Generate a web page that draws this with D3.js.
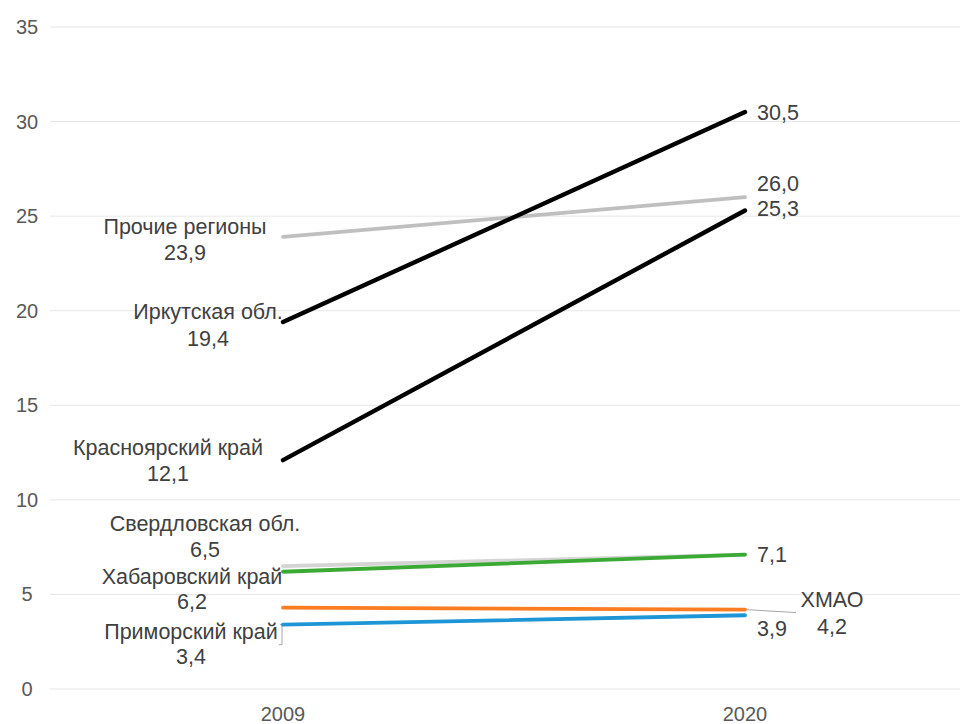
<!DOCTYPE html>
<html><head><meta charset="utf-8">
<script src="https://cdn.jsdelivr.net/npm/d3@7"></script>
<style>body{margin:0;background:#fff}svg{display:block}text{font-family:"Liberation Sans",Arial,sans-serif}</style>
</head><body><svg id="c" width="960" height="724"></svg>
<script>
const years = ["2009", "2020"];
const regions = ["Прочие регионы", "Иркутская обл.", "Красноярский край", "Свердловская обл.", "Хабаровский край", "ХМАО", "Приморский край"];
const values2009 = [23.9, 19.4, 12.1, 6.5, 6.2, 4.3, 3.4];
const values2020 = [26.0, 30.5, 25.3, 7.1, 7.1, 4.2, 3.9];
const colors = ["#bfbfbf", "#000000", "#000000", "#d4d4d4", "#3aaa35", "#fb7d22", "#1e96d6"];
const yTicks = [0, 5, 10, 15, 20, 25, 30, 35];
const fmt = v => v.toFixed(1).replace(".", ",");

// label layout (offsets in px from the point)
const leftLabel = [
  {dx:-98, dy1:-10, dy2:16},
  {dx:-75, dy1:-11, dy2:16},
  {dx:-115, dy1:-13, dy2:13},
  {dx:-78, dy1:-43, dy2:-17},
  {dx:-91, dy1:5, dy2:30},
  null,
  {dx:-92, dy1:7, dy2:32}
];
const rightLabel = [
  {dy:-14}, {dy:0}, {dy:-2}, null, {dy:0}, "xmao", {dy:13}
];

const svg = d3.select("#c");
const x = d3.scalePoint().domain(years).range([52, 976]).padding(0.5);
const y = d3.scaleLinear().domain([0, 35]).range([689, 27]);

// grid
svg.append("g").selectAll("line").data(yTicks).join("line")
  .attr("x1", 50).attr("x2", 960)
  .attr("y1", d => y(d)).attr("y2", d => y(d))
  .attr("stroke", "#e6e6e6").attr("stroke-width", 1);

// y tick labels
svg.append("g").selectAll("text").data(yTicks).join("text")
  .attr("x", 27).attr("y", d => y(d)).attr("dy", "0.35em")
  .attr("text-anchor", "middle").attr("font-size", 20).attr("fill", "#595959")
  .text(d => d);

// x labels
svg.append("g").selectAll("text").data(years).join("text")
  .attr("x", d => x(d)).attr("y", 714).attr("dy", "0.35em")
  .attr("text-anchor", "middle").attr("font-size", 20).attr("fill", "#595959")
  .text(d => d);

const series = regions.map((r, i) => ({name: r, v: [values2009[i], values2020[i]], color: colors[i], i}));
const drawOrder = [3, 0, 6, 5, 4, 2, 1];

const line = d3.line().x((d, k) => x(years[k])).y(d => y(d));

// leader lines
svg.append("line").attr("x1", x("2020")).attr("y1", y(4.2)).attr("x2", 796).attr("y2", y(4.2) + 3)
  .attr("stroke", "#a6a6a6").attr("stroke-width", 1);
svg.append("path").attr("d", `M${x("2009")-3},${y(3.4)} L${x("2009")-1},${y(3.4)} L${x("2009")-1},${y(3.4)+20} L${x("2009")-4},${y(3.4)+20}`)
  .attr("fill", "none").attr("stroke", "#a6a6a6").attr("stroke-width", 1);

svg.append("g").selectAll("path").data(drawOrder.map(i => series[i])).join("path")
  .attr("d", d => line(d.v))
  .attr("fill", "none").attr("stroke", d => d.color)
  .attr("stroke-width", d => d.color === "#000000" ? 4.4 : 3.8)
  .attr("stroke-linecap", "round");

const tcol = "#404040";
const lg = svg.append("g").attr("font-size", 21.5).attr("fill", tcol);
series.forEach((s, i) => {
  const L = leftLabel[i];
  if (L) {
    const px = x("2009"), py = y(s.v[0]);
    lg.append("text").attr("x", px + L.dx).attr("y", py + L.dy1).attr("dy", "0.35em")
      .attr("text-anchor", "middle").text(s.name);
    lg.append("text").attr("x", px + L.dx).attr("y", py + L.dy2).attr("dy", "0.35em")
      .attr("text-anchor", "middle").text(fmt(s.v[0]));
  }
  const R = rightLabel[i];
  const px2 = x("2020"), py2 = y(s.v[1]);
  if (R === "xmao") {
    lg.append("text").attr("x", 832).attr("y", py2 - 10).attr("dy", "0.35em")
      .attr("text-anchor", "middle").text(s.name);
    lg.append("text").attr("x", 832).attr("y", py2 + 17).attr("dy", "0.35em")
      .attr("text-anchor", "middle").text(fmt(s.v[1]));
  } else if (R) {
    lg.append("text").attr("x", px2 + 12).attr("y", py2 + R.dy).attr("dy", "0.35em")
      .text(fmt(s.v[1]));
  }
});
</script></body></html>
